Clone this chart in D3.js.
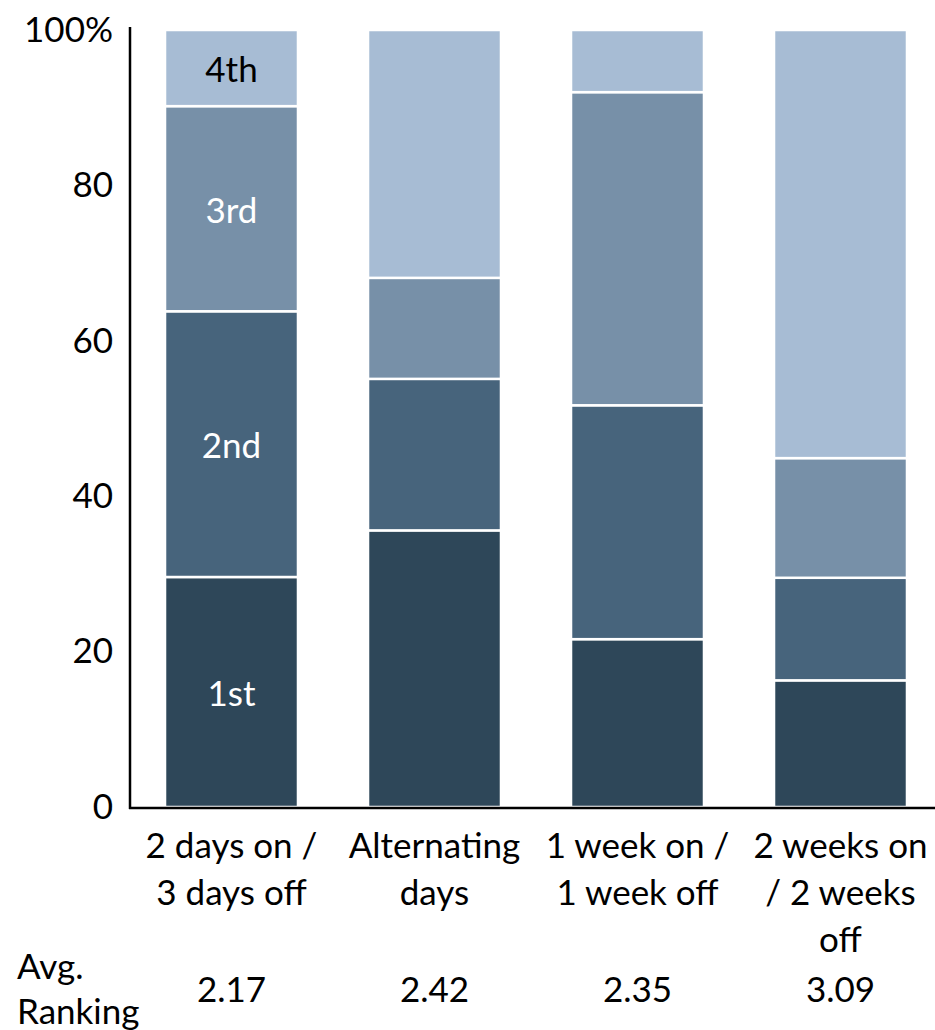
<!DOCTYPE html>
<html>
<head>
<meta charset="utf-8">
<script src="https://cdn.jsdelivr.net/npm/d3@7"></script>
<style>
  html, body { margin: 0; padding: 0; background: #fff; }
  svg { display: block; }
  text { font-family: Lato, "Open Sans", sans-serif; }
</style>
</head>
<body>
<svg id="chart" width="935" height="1030"></svg>
<script>
// Schedules compared and how often each was ranked 1st..4th (% of respondents)
const categories = ["2 days on / 3 days off", "Alternating days", "1 week on / 1 week off", "2 weeks on / 2 weeks off"];
const categoryLines = [
  ["2 days on /", "3 days off"],
  ["Alternating", "days"],
  ["1 week on /", "1 week off"],
  ["2 weeks on", "/ 2 weeks", "off"]
];
const ranks = ["1st", "2nd", "3rd", "4th"];
const first  = [29.6, 35.6, 21.6, 16.3];
const second = [34.2, 19.5, 30.1, 13.2];
const third  = [26.4, 13.0, 40.3, 15.4];
const fourth = [9.8, 31.9, 8.0, 55.1];
const avgRanking = ["2.17", "2.42", "2.35", "3.09"];
const yTicks = [0, 20, 40, 60, 80, 100];

const rankColors = ["#2e4759", "#47647c", "#7790a8", "#a7bcd4"];
const rankLabelColors = ["#ffffff", "#ffffff", "#ffffff", "#000000"];

const FS = 35;

const rows = categories.map((c, i) => ({
  category: c,
  "1st": first[i], "2nd": second[i], "3rd": third[i], "4th": fourth[i]
}));
const stacked = d3.stack().keys(ranks)(rows);

const svg = d3.select("#chart");

const x = d3.scaleBand().domain(categories).range([130, 942])
  .paddingInner(0.345).paddingOuter(0.1725);
const y = d3.scaleLinear().domain([0, 100]).range([807, 30]);

// stacked segments
svg.append("g").selectAll("g")
  .data(stacked)
  .join("g")
  .attr("fill", (d, i) => rankColors[i])
  .selectAll("rect")
  .data(d => d)
  .join("rect")
  .attr("x", d => x(d.data.category))
  .attr("width", x.bandwidth())
  .attr("y", d => y(d[1]))
  .attr("height", d => y(d[0]) - y(d[1]))
  .attr("stroke", "#ffffff")
  .attr("stroke-width", 2.5);

// rank labels on the first bar
const firstCat = categories[0];
svg.append("g").selectAll("text")
  .data(stacked)
  .join("text")
  .attr("x", x(firstCat) + x.bandwidth() / 2)
  .attr("y", d => y((d[0][0] + d[0][1]) / 2))
  .attr("text-anchor", "middle")
  .attr("dominant-baseline", "central")
  .attr("font-size", FS)
  .attr("fill", (d, i) => rankLabelColors[i])
  .text(d => d.key);

// y axis
const yAxis = svg.append("g").attr("transform", "translate(130,0)")
  .call(d3.axisLeft(y).tickValues(yTicks).tickSize(0).tickPadding(17)
    .tickFormat(v => v === 100 ? "100%" : v));
yAxis.select(".domain").remove();
yAxis.selectAll("text").attr("font-size", FS).attr("fill", "#000")
  .style("font-family", "Lato, 'Open Sans', sans-serif");
svg.append("line")
  .attr("x1", 130).attr("x2", 130)
  .attr("y1", y(100) - 3).attr("y2", y(0) + 2)
  .attr("stroke", "#000").attr("stroke-width", 2.5);

// x axis baseline
svg.append("line")
  .attr("x1", 129).attr("x2", 935)
  .attr("y1", y(0) + 1).attr("y2", y(0) + 1)
  .attr("stroke", "#000").attr("stroke-width", 2.5);

// category labels
const catG = svg.append("g").selectAll("text")
  .data(categories)
  .join("text")
  .attr("text-anchor", "middle")
  .attr("font-size", FS)
  .attr("fill", "#000");
catG.selectAll("tspan")
  .data((d, i) => categoryLines[i].map(line => ({ line, cat: d })))
  .join("tspan")
  .attr("x", d => x(d.cat) + x.bandwidth() / 2)
  .attr("y", (d, j) => 858 + j * 47)
  .text(d => d.line);

// average ranking row
svg.append("text").attr("x", 17).attr("y", 979)
  .attr("font-size", FS).attr("fill", "#000").text("Avg.");
svg.append("text").attr("x", 17).attr("y", 1024)
  .attr("font-size", FS).attr("fill", "#000").text("Ranking");
svg.append("g").selectAll("text")
  .data(categories)
  .join("text")
  .attr("x", d => x(d) + x.bandwidth() / 2)
  .attr("y", 1002)
  .attr("text-anchor", "middle")
  .attr("font-size", FS)
  .attr("fill", "#000")
  .text((d, i) => avgRanking[i]);
</script>
</body>
</html>
